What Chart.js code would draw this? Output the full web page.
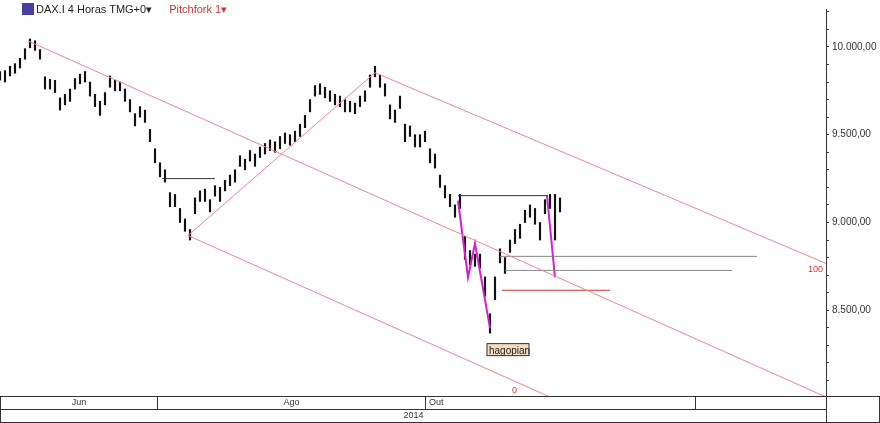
<!DOCTYPE html>
<html>
<head>
<meta charset="utf-8">
<script src="https://cdn.jsdelivr.net/npm/chart.js@4"></script>
<style>
  body { margin: 0; background: #fff; font-family: "Liberation Sans", Arial, sans-serif; }
  #wrap { position: relative; width: 880px; height: 423px; }
  canvas { position: absolute; left: 0; top: 0; }
  .hdr { position: absolute; top: 3px; left: 22px; font-size: 11px; color: #222; }
  .hdr .ic { display: inline-block; width: 12px; height: 12px; background: #4a3fa0; vertical-align: -2px; margin-right: 2px; }
  .hdr .pf { color: #c33; margin-left: 14px; }
  .band { position: absolute; border: 1px solid #333; box-sizing: border-box; font-size: 9px; color: #333; text-align: center; }
</style>
</head>
<body>
<div id="wrap">
  <canvas id="c" width="880" height="423"></canvas>
  <div class="hdr"><span class="ic"></span>DAX.I 4 Horas TMG+0&#9662; <span class="pf">Pitchfork 1&#9662;</span></div>
  <div class="band" style="left:0;top:396px;width:158px;height:14px;">Jun</div>
  <div class="band" style="left:157px;top:396px;width:269px;height:14px;">Ago</div>
  <div class="band" style="left:425px;top:396px;width:271px;height:14px;text-align:left;padding-left:3px;">Out</div>
  <div class="band" style="left:695px;top:396px;width:132px;height:14px;"></div>
  <div class="band" style="left:0;top:409px;width:827px;height:14px;">2014</div>
  <div class="band" style="left:826px;top:396px;width:54px;height:27px;border-left:1px solid #333;"></div>
</div>
<script>
// ===============================
// DADOS (preço DAX, barras 4h)
// ===============================
const barX = [];
for (let i = 0; i <= 560; i += 5) barX.push(i);

const highs = [9860,9865,9890,9905,9935,9990,10045,10035,9985,9830,9815,9810,9710,9730,9760,9820,9845,9860,9800,9730,9690,9740,9835,9810,9800,9760,9700,9620,9660,9640,9530,9420,9340,9300,9170,9160,9080,9020,8960,9140,9180,9190,9130,9210,9200,9240,9270,9300,9380,9360,9410,9390,9430,9450,9470,9460,9490,9510,9500,9520,9560,9610,9700,9780,9790,9770,9750,9730,9720,9700,9690,9680,9720,9750,9840,9890,9840,9790,9670,9640,9720,9560,9550,9500,9500,9520,9420,9390,9270,9210,9160,9100,9160,8920,8840,8820,8820,8690,8480,8690,8850,8800,8900,8960,8990,9070,9100,9080,9000,9130,9160,9160,9140];
const lows  = [9810,9800,9835,9850,9880,9930,9995,9980,9930,9760,9760,9740,9640,9670,9690,9760,9790,9800,9720,9660,9610,9670,9770,9750,9750,9690,9630,9550,9600,9570,9460,9340,9260,9230,9090,9090,9000,8950,8900,9050,9120,9120,9060,9150,9120,9180,9210,9230,9320,9300,9350,9320,9370,9390,9410,9400,9420,9450,9440,9460,9490,9540,9630,9720,9730,9710,9690,9670,9660,9630,9630,9620,9660,9690,9770,9830,9770,9720,9590,9570,9650,9460,9490,9430,9430,9460,9340,9310,9200,9140,9090,9030,9080,8790,8760,8750,8740,8580,8370,8560,8770,8710,8830,8880,8910,9000,9030,8990,8900,9050,9080,8900,9060];

// marcas do eixo de preço
const tickValues = [8100,8200,8300,8400,8500,8600,8700,8800,8900,9000,9100,9200,9300,9400,9500,9600,9700,9800,9900,10000,10100,10200];

// pitchfork e linhas desenhadas (x em px do gráfico, y em preço)
const forkMedian = [{x:28,y:10034},{x:826,y:8006}];
const forkUpper  = [{x:375,y:9853},{x:826,y:8767}];
const forkLower  = [{x:188,y:8926},{x:550,y:8006}];
const forkHandle = [{x:188,y:8926},{x:375,y:9853}];
const neck1 = [{x:162,y:9250},{x:215,y:9250}];
const neck2 = [{x:458,y:9153},{x:548,y:9153}];
const grey1 = [{x:500,y:8807},{x:757,y:8807}];
const grey2 = [{x:505,y:8727},{x:732,y:8727}];
const redLv = [{x:502,y:8614},{x:610,y:8614}];
const mag1 = [{x:458,y:9125},{x:468,y:8687},{x:475,y:8881},{x:490,y:8398}];
const mag2 = [{x:547,y:9153},{x:555,y:8687}];

const fmt = v => v.toLocaleString("de-DE", {minimumFractionDigits: 2});
const ln = (d, c, w) => ({ type: "line", data: d, borderColor: c, borderWidth: w || 1, pointRadius: 0, fill: false });

const textos = {
  id: "textos",
  afterDatasetsDraw(ch) {
    const { ctx, scales: { x, y } } = ch;
    ctx.save();
    ctx.font = "9px 'Liberation Sans'";
    ctx.fillStyle = "#d33";
    ctx.fillText("100", x.getPixelForValue(808), y.getPixelForValue(8720));
    ctx.fillText("0", x.getPixelForValue(512), y.getPixelForValue(8030));
    const bx = x.getPixelForValue(487), by = y.getPixelForValue(8310);
    ctx.fillStyle = "#f3dcc0"; ctx.fillRect(bx, by, 42, 12);
    ctx.strokeStyle = "#333"; ctx.strokeRect(bx, by, 42, 12);
    ctx.fillStyle = "#222"; ctx.font = "10px 'Liberation Sans'";
    ctx.fillText("hagopian", bx + 2, by + 10);
    ctx.restore();
  }
};

new Chart(document.getElementById("c"), {
  type: "bar",
  data: {
    datasets: [
      { type: "bar", data: barX.map((xv, i) => ({ x: xv, y: [lows[i], highs[i]] })), backgroundColor: "#111", barThickness: 1.5, order: 1 },
      ln(forkMedian, "#e88"), ln(forkUpper, "#e88"), ln(forkLower, "#e88"), ln(forkHandle, "#e88"),
      ln(neck1, "#333"), ln(neck2, "#333"), ln(grey1, "#888"), ln(grey2, "#888"), ln(redLv, "#c33"),
      ln(mag1, "#d020d0", 2), ln(mag2, "#d020d0", 2)
    ]
  },
  options: {
    animation: false, responsive: false,
    layout: { padding: { bottom: 26, right: 0, top: 0, left: 0 } },
    plugins: { legend: { display: false }, tooltip: { enabled: false } },
    scales: {
      x: { type: "linear", min: 0, max: 826, offset: false, display: false },
      y: {
        position: "right", min: 8006, max: 10216,
        afterBuildTicks: s => { s.ticks = tickValues.map(v => ({ value: v })); },
        afterFit: s => { s.width = 54; },
        border: { color: "#333" },
        grid: { drawOnChartArea: false, tickLength: 3, color: "#333" },
        ticks: { autoSkip: false, color: "#333", font: { size: 10, family: "Liberation Sans" },
                 callback: v => v % 500 === 0 ? fmt(v) : "" }
      }
    }
  },
  plugins: [textos]
});
</script>
</body>
</html>
